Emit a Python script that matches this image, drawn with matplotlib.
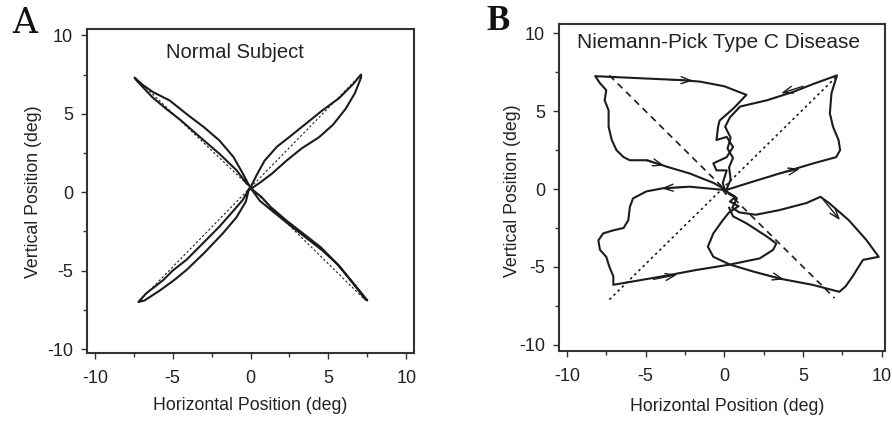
import matplotlib
matplotlib.use("Agg")
import matplotlib.pyplot as plt

plt.rcParams['font.family'] = ['Liberation Sans', 'DejaVu Sans']

# ---------------- Panel A: normal subject (deg) ----------------
a_ur_x = [0.0, 0.6, 1.4, 2.3, 3.3, 4.4, 5.3, 6.1, 6.7, 7.1, 7.1, 6.6, 5.7, 4.6, 3.6, 2.6, 1.7, 0.9, 0.4, 0.0]
a_ur_y = [0.2, 0.6, 1.2, 2.0, 2.8, 3.5, 4.3, 5.3, 6.3, 7.3, 7.5, 6.9, 6.0, 5.2, 4.4, 3.6, 2.9, 2.0, 1.1, 0.3]

a_ul_x = [-0.1, -0.5, -1.1, -2.0, -3.0, -4.0, -5.2, -6.3, -7.0, -7.45, -7.3, -6.3, -5.4, -4.5, -3.0, -2.0, -0.9, -0.25, -0.1]
a_ul_y = [0.45, 1.2, 2.25, 3.3, 4.15, 4.9, 5.85, 6.4, 6.9, 7.3, 7.1, 6.05, 5.3, 4.6, 3.3, 2.45, 1.4, 0.55, 0.45]

a_ll_x = [-0.1, -0.5, -1.2, -2.0, -3.0, -4.1, -5.0, -5.6, -6.7, -7.2, -6.8, -5.8, -4.9, -4.1, -3.0, -1.8, -0.9, -0.3, -0.1]
a_ll_y = [0.2, -0.5, -1.3, -2.2, -3.2, -4.3, -5.0, -5.6, -6.45, -7.0, -6.9, -6.25, -5.6, -4.95, -3.9, -2.65, -1.6, -0.6, 0.2]

a_lr_x = [0.0, 0.2, 0.7, 1.3, 2.3, 3.4, 4.5, 5.5, 6.6, 7.1, 7.5, 7.3, 6.7, 5.7, 4.6, 3.5, 2.4, 1.4, 0.6, 0.2, 0.0]
a_lr_y = [0.3, 0.1, -0.3, -0.95, -1.8, -2.65, -3.5, -4.5, -5.8, -6.4, -6.9, -6.75, -5.95, -4.7, -3.7, -2.85, -2.0, -1.2, -0.55, 0.0, 0.3]

a_target_x = [[0.0, 7.0], [0.0, -7.4], [0.0, -7.2], [0.0, 7.4]]
a_target_y = [[0.3, 7.4], [0.3, 7.3], [0.3, -7.0], [0.3, -6.9]]

# ---------------- Panel B: Niemann-Pick type C ----------------
b_target_neg_x = [-7.3, 7.0]
b_target_neg_y = [7.3, -7.0]
b_target_pos_x = [-7.3, 7.2]
b_target_pos_y = [-7.1, 7.3]

# upper-left excursion
b_ul_x = [0.0, -0.7, -2.2, -3.7, -4.9, -6.0, -6.4, -6.85, -7.15, -7.35, -7.35, -7.6, -7.5, -7.9, -8.2,
          -5.0, -2.8, -1.55, 0.0, 1.4, 0.6, -0.3, -0.4, -0.5, 0.15, 0.55, 0.15, -0.7, -0.5, 0.15, -0.1, 0.05]
b_ul_y = [0.0, 0.4, 1.0, 1.45, 1.85, 1.85, 2.05, 2.5, 3.15, 4.0, 5.05, 5.7, 6.35, 6.8, 7.25,
          7.1, 7.0, 6.9, 6.6, 6.05, 5.2, 4.4, 4.0, 3.15, 3.35, 2.7, 2.05, 1.65, 1.2, 1.2, 0.4, -0.15]

# upper-right excursion
b_ur_x = [0.1, 0.4, 0.3, 0.55, 0.2, 0.4, 0.05, 0.35, 1.0, 2.7, 4.4, 5.65, 7.15,
          6.8, 6.7, 6.9, 7.25, 7.35, 7.1, 5.65, 3.5, 1.4, 0.15]
b_ur_y = [-0.1, 0.6, 1.4, 2.0, 2.6, 3.3, 4.0, 4.6, 5.3, 5.7, 6.25, 6.75, 7.3,
          6.15, 4.85, 4.0, 3.15, 2.5, 2.05, 1.65, 1.0, 0.35, -0.05]

# lower-left excursion
b_ll_x = [0.1, -0.1, -2.2, -3.9, -4.95, -5.8, -6.0, -6.1, -6.4, -7.05, -7.7, -8.0, -7.9, -7.5, -7.3, -7.05, -7.05,
          -3.9, -1.8, 0.35, 2.25, 3.1, 3.3, 2.7, 1.4, 0.55, 0.3]
b_ll_y = [-0.3, -0.05, 0.15, 0.05, -0.15, -0.6, -1.15, -2.0, -2.5, -2.65, -2.85, -3.3, -3.9, -4.35, -5.0, -5.6, -6.15,
          -5.6, -5.2, -4.85, -4.45, -3.9, -3.5, -3.05, -2.2, -1.75, -1.2]

# central tangle and lower-right excursion
b_lr_x = [0.2, 0.7, 0.35, 0.9, 0.3, -0.1, -0.7, -1.05, -0.7, 0.35, 1.85, 3.5, 5.6, 7.3,
          7.7, 8.15, 8.8, 9.8, 9.0, 7.9, 6.65, 6.1, 5.2, 3.5, 2.0, 0.95, 0.5, 0.8, 0.3]
b_lr_y = [-0.2, -0.5, -0.8, -1.1, -1.5, -2.0, -2.85, -3.7, -4.35, -4.85, -5.3, -5.75, -6.15, -6.6,
          -6.25, -5.6, -4.55, -4.35, -3.25, -2.0, -0.9, -0.5, -0.9, -1.35, -1.65, -1.5, -1.2, -0.6, -0.3]

# arrow heads on the trace: tail -> tip
b_arrow_tail_x = [-3.4, -5.0, 5.0, 3.5, -2.6, -4.5, 2.4, 6.3]
b_arrow_tail_y = [7.02, 1.85, 6.6, 1.0, 0.12, -5.8, -5.45, -0.7]
b_arrow_tip_x = [-2.0, -3.8, 3.6, 4.8, -4.0, -3.0, 3.8, 7.35]
b_arrow_tip_y = [6.96, 1.5, 6.15, 1.3, 0.05, -5.5, -5.8, -2.0]

ticks = [-10, -5, 0, 5, 10]
minor_ticks = [-7.5, -2.5, 2.5, 7.5]

INK = '#1c1c1c'

fig = plt.figure(figsize=(8.92, 4.23), dpi=100)
axA = fig.add_axes([87/892, 1 - 353/423, 327/892, 324/423])
axB = fig.add_axes([559/892, 1 - 351/423, 326/892, 327/423])


def style(ax, xlim, ylim):
    ax.set_xlim(*xlim)
    ax.set_ylim(*ylim)
    ax.set_xticks(ticks)
    ax.set_yticks(ticks)
    ax.set_xticks(minor_ticks, minor=True)
    ax.set_yticks(minor_ticks, minor=True)
    ax.set_xticklabels([str(t) for t in ticks])
    ax.set_yticklabels([str(t) for t in ticks])
    ax.tick_params(which='both', direction='out', color='#333333', width=1.0,
                   labelsize=13, labelcolor='#222222')
    ax.tick_params(which='major', length=4)
    ax.tick_params(which='minor', length=3)
    ax.tick_params(axis='x', pad=8)
    ax.tick_params(axis='y', pad=6)
    for s in ax.spines.values():
        s.set_linewidth(1.5)
        s.set_color('#333333')
    ax.set_xlabel('Horizontal Position (deg)', fontsize=12.8, color='#222222')
    ax.set_ylabel('Vertical Position (deg)', fontsize=12.8, color='#222222')


style(axA, (-10.5, 10.5), (-10.25, 10.4))
style(axB, (-10.5, 10.2), (-10.4, 10.6))

# Panel A
for tx, ty in zip(a_target_x, a_target_y):
    axA.plot(tx, ty, color=INK, lw=0.8, dashes=(2, 2))
for xs, ys in [(a_ur_x, a_ur_y), (a_ul_x, a_ul_y), (a_ll_x, a_ll_y), (a_lr_x, a_lr_y)]:
    axA.plot(xs, ys, color=INK, lw=1.5, solid_joinstyle='round')

# Panel B
axB.plot(b_target_neg_x, b_target_neg_y, color=INK, lw=1.2, dashes=(4, 3))
axB.plot(b_target_pos_x, b_target_pos_y, color=INK, lw=1.2, dashes=(1.5, 2))
for xs, ys in [(b_ul_x, b_ul_y), (b_ur_x, b_ur_y), (b_ll_x, b_ll_y), (b_lr_x, b_lr_y)]:
    axB.plot(xs, ys, color=INK, lw=1.5, solid_joinstyle='round')
for x0, y0, x1, y1 in zip(b_arrow_tail_x, b_arrow_tail_y, b_arrow_tip_x, b_arrow_tip_y):
    axB.annotate('', xy=(x1, y1), xytext=(x0, y0),
                 arrowprops=dict(arrowstyle='->,head_length=0.7,head_width=0.25',
                                 color=INK, lw=1.0, shrinkA=0, shrinkB=0))

axA.text(0.453, 0.929, 'Normal Subject', transform=axA.transAxes,
         ha='center', va='center', fontsize=14.5, color='#222222')
axB.text(0.488, 0.942, 'Niemann-Pick Type C Disease', transform=axB.transAxes,
         ha='center', va='center', fontsize=15, color='#222222')

axA.xaxis.set_label_coords(0.5, -0.136)
axA.yaxis.set_label_coords(-0.138, 0.497)
axB.xaxis.set_label_coords(0.515, -0.144)
axB.yaxis.set_label_coords(-0.117, 0.49)

fig.text(25/892, 1 - 23/423, 'A', ha='center', va='center', fontsize=25,
         family=['DejaVu Serif'], color='#111111')
fig.text(498/892, 1 - 22/423, 'B', ha='center', va='center', fontsize=25,
         family=['Liberation Serif'], fontweight='bold', color='#111111')

fig.savefig('out.png', dpi=100)
